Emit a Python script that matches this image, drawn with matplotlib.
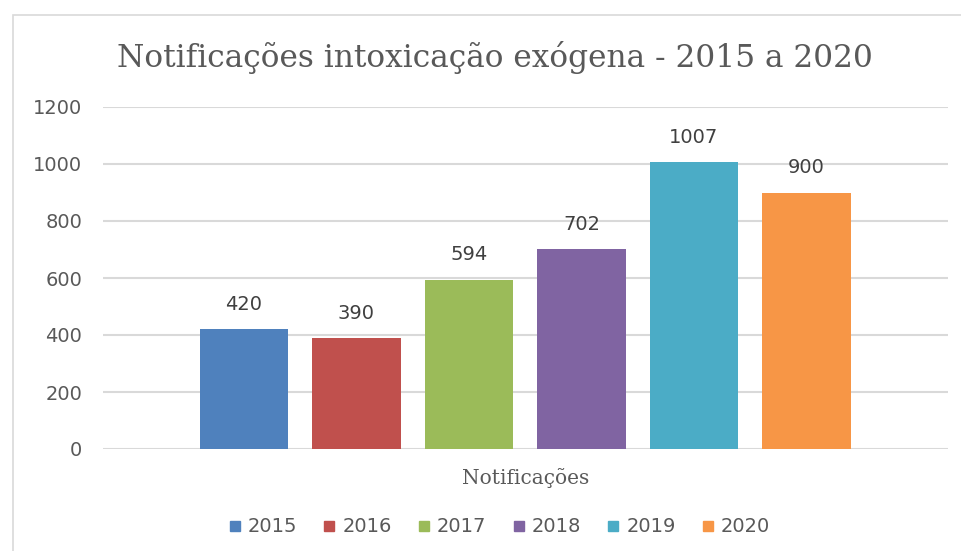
import matplotlib
matplotlib.use("Agg")
import matplotlib.pyplot as plt
from matplotlib.patches import Rectangle
from matplotlib.lines import Line2D

title = "Notificações intoxicação exógena - 2015 a 2020"
category = "Notificações"
years = ["2015", "2016", "2017", "2018", "2019", "2020"]
values = [420, 390, 594, 702, 1007, 900]
colors = ["#4F81BD", "#C0504D", "#9BBB59", "#8064A2", "#4BACC6", "#F79646"]
yticks = [0, 200, 400, 600, 800, 1000, 1200]

plt.rcParams["font.family"] = ["DejaVu Sans"]

W, H = 962, 551
fig = plt.figure(figsize=(W / 100, H / 100), dpi=100)
fig.patch.set_facecolor("white")

# chart border
fig.add_artist(Rectangle((13 / W, -0.1), 1.2, 1 - 15 / H + 0.1, transform=fig.transFigure,
                         fill=False, edgecolor="#d9d9d9", linewidth=1.2))

left, right, top, bottom = 103, 948, 107, 449
ax = fig.add_axes([left / W, 1 - bottom / H, (right - left) / W, (bottom - top) / H])

x = list(range(len(values)))
bars = ax.bar(x, values, width=0.787, color=colors, zorder=3)
for xi, v in zip(x, values):
    ax.annotate(str(v), (xi, v), xytext=(0, 11), textcoords="offset points",
                ha="center", va="bottom", fontsize=14, color="#404040")

ax.set_xlim(-1.253, 6.258)
ax.set_ylim(0, 1200)
ax.set_yticks(yticks)
ax.set_yticklabels([str(t) for t in yticks], fontsize=14, color="#595959")
ax.tick_params(axis="y", length=0, pad=15)
ax.set_xticks([])
for s in ax.spines.values():
    s.set_visible(False)
ax.grid(axis="y", color="#d9d9d9", linewidth=1.5, zorder=0)
ax.set_axisbelow(True)

ax.text(2.5, -0.085, category, transform=ax.get_xaxis_transform(), ha="center", va="center",
        fontsize=14.5, family="DejaVu Serif", color="#595959")

fig.text(495 / W, 1 - 58 / H, title, ha="center", va="center", fontsize=22.5,
         family="DejaVu Serif", color="#595959")

handles = [Line2D([], [], marker="s", linestyle="none", markersize=7, color=c) for c in colors]
fig.legend(handles, years, loc="center", bbox_to_anchor=(500 / W, 1 - 527 / H), ncol=6,
           frameon=False, fontsize=14, labelcolor="#595959", handlelength=0.5,
           handletextpad=0.41, columnspacing=1.42)

fig.savefig("out.png", dpi=100, facecolor="white")
